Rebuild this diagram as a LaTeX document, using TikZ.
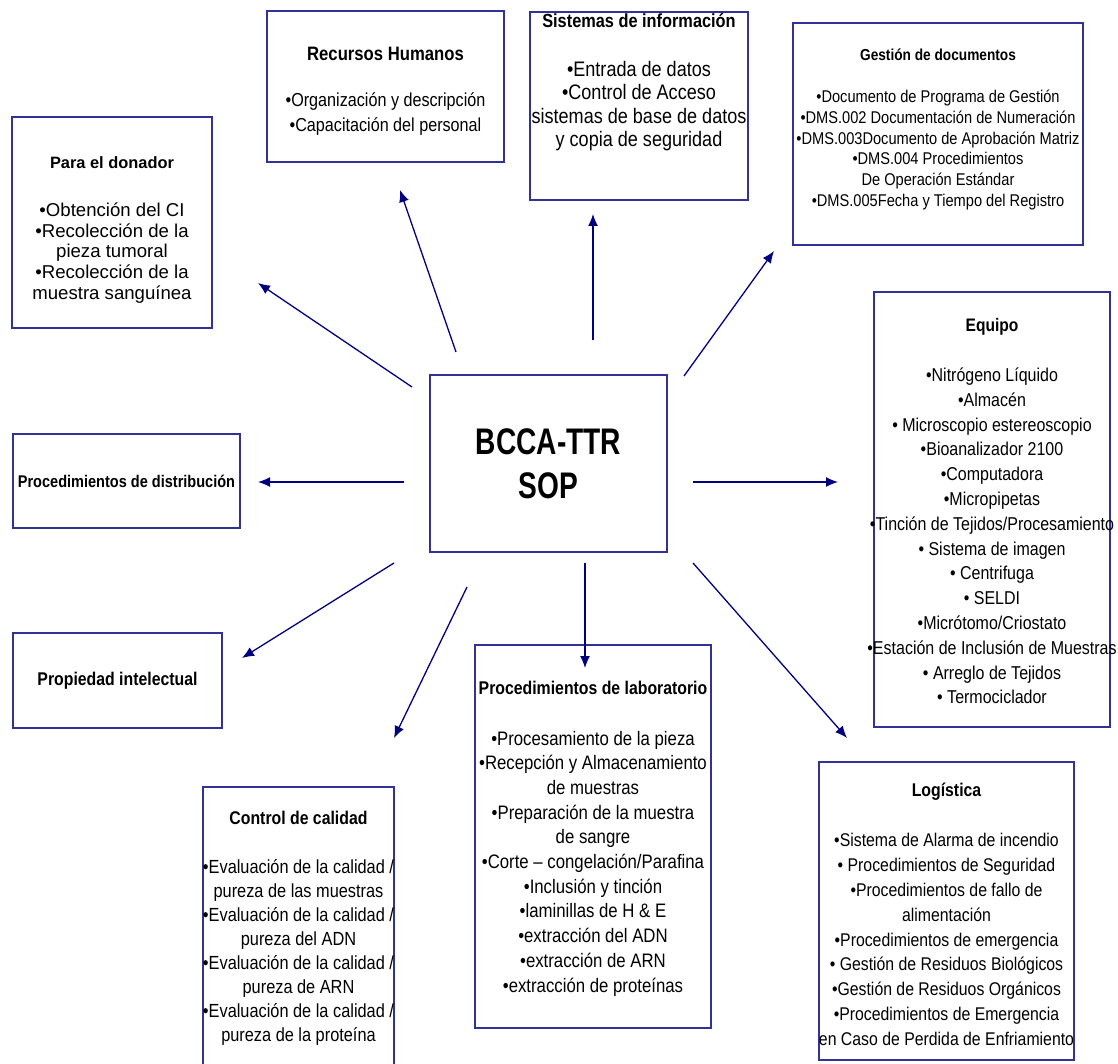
\documentclass[tikz,border=0pt]{standalone}
\usepackage{fontspec}
\setmainfont{Liberation Sans}
\newfontfamily\angosta{Liberation Sans}[FakeStretch=0.86]
\newfontfamily\estrecha{Liberation Sans}[FakeStretch=0.76]
\usetikzlibrary{arrows.meta}
\definecolor{azul}{RGB}{0,0,128}
\definecolor{borde}{RGB}{50,50,150}
\tikzset{
caja/.style={draw=borde, line width=1.5pt, outer sep=0pt, inner sep=0pt, align=center},
titulo/.style={inner sep=0pt, align=center, font=\angosta\bfseries\fontsize{#1}{#1}\selectfont},
lista/.style 2 args={inner sep=0pt, align=center, font=\angosta\fontsize{#1}{#2}\selectfont},
flecha/.style={draw=azul, line width=1.3pt, -{Latex[length=12pt,width=10pt]}}
}
\begin{document}
\begin{tikzpicture}[x=1pt,y=-1pt]
\useasboundingbox (0,0) rectangle (1118,1064);
% caja central
\node[caja, minimum width=237, minimum height=177, font=\estrecha\bfseries\fontsize{37}{44}\selectfont] (bcca) at (548.5,463.5) {BCCA-TTR\\SOP};
% cajas de alrededor
\node[caja, minimum width=200, minimum height=211] (don) at (112,222.5) {};
\node[inner sep=0pt, font=\bfseries\fontsize{16.4}{20}\selectfont] (dont) at (112,163) {Para el donador};
\node[inner sep=0pt, align=center, font=\fontsize{18.6}{20.8}\selectfont] (donl) at (112,253) {•Obtención del CI\\•Recolección de la\\pieza tumoral\\•Recolección de la\\muestra sanguínea};
\node[caja, minimum width=237, minimum height=151] (rh) at (385.5,86.5) {};
\node[titulo=19.4] (rht) at (385.5,54) {Recursos Humanos};
\node[lista={18.8}{25}] (rhl) at (385.5,114.5) {•Organización y descripción\\•Capacitación del personal};
\node[caja, minimum width=218, minimum height=188] (sis) at (639,106) {};
\node[titulo=19] (sist) at (639,21) {Sistemas de información};
\node[lista={21}{23.3}] (sisl) at (639,106) {•Entrada de datos\\•Control de Acceso\\sistemas de base de datos\\y copia de seguridad};
\node[caja, minimum width=290, minimum height=222] (ges) at (938,134) {};
\node[titulo=15.9] (gest) at (938,55) {Gestión de documentos};
\node[lista={17}{20.8}] (gesl) at (938,150) {•Documento de Programa de Gestión\\•DMS.002 Documentación de Numeración\\•DMS.003Documento de Aprobación Matriz\\•DMS.004 Procedimientos\\De Operación Estándar\\•DMS.005Fecha y Tiempo del Registro};
\node[caja, minimum width=236, minimum height=435] (equ) at (992,509.5) {};
\node[titulo=18.1] (equt) at (992,327) {Equipo};
\node[lista={18.6}{24.8}] (equl) at (992,536) {•Nitrógeno Líquido\\•Almacén\\• Microscopio estereoscopio\\•Bioanalizador 2100\\•Computadora\\•Micropipetas\\•Tinción de Tejidos/Procesamiento\\• Sistema de imagen\\• Centrifuga\\• SELDI\\•Micrótomo/Criostato\\•Estación de Inclusión de Muestras\\• Arreglo de Tejidos\\• Termociclador};
\node[caja, minimum width=255, minimum height=298] (log) at (946.5,911) {};
\node[titulo=18.4] (logt) at (946.5,792) {Logística};
\node[lista={18.4}{24.8}] (logl) at (946.5,939.5) {•Sistema de Alarma de incendio\\• Procedimientos de Seguridad\\•Procedimientos de fallo de\\alimentación\\•Procedimientos de emergencia\\• Gestión de Residuos Biológicos\\•Gestión de Residuos Orgánicos\\•Procedimientos de Emergencia\\en Caso de Perdida de Enfriamiento};
\node[caja, minimum width=236, minimum height=383] (lab) at (593,836.5) {};
\node[titulo=18.4] (labt) at (593,688) {Procedimientos de laboratorio};
\node[lista={19.5}{24.7}] (labl) at (593,863.5) {•Procesamiento de la pieza\\•Recepción y Almacenamiento\\de muestras\\•Preparación de la muestra\\de sangre\\•Corte – congelación/Parafina\\•Inclusión y tinción\\•laminillas de H \& E\\•extracción del ADN\\•extracción de ARN\\•extracción de proteínas};
\node[caja, minimum width=191, minimum height=288] (cal) at (298.5,931) {};
\node[titulo=18.4] (calt) at (298.5,818) {Control de calidad};
\node[lista={19}{24}] (call) at (298.5,952) {•Evaluación de la calidad /\\pureza de las muestras\\•Evaluación de la calidad /\\pureza del ADN\\•Evaluación de la calidad /\\pureza de ARN\\•Evaluación de la calidad /\\pureza de la proteína};
\node[caja, minimum width=227, minimum height=94, font=\angosta\bfseries\fontsize{16.9}{19}\selectfont] (dis) at (126.5,481) {Procedimientos de distribución};
\node[caja, minimum width=209, minimum height=95, font=\angosta\bfseries\fontsize{18.4}{20}\selectfont] (pro) at (117.5,680.5) {Propiedad intelectual};
% flechas
\draw[flecha] ([shift={(-18,12)}]bcca.north west) -- ([shift={(46,-45)}]don.south east);
\draw[flecha] ([shift={(26,-23)}]bcca.north west) -- ([shift={(14.5,28)}]rh.south);
\draw[flecha] ([shift={(44.5,-35)}]bcca.north) -- ([shift={(-46,14)}]sis.south);
\draw[flecha] ([shift={(17,1)}]bcca.north east) -- ([shift={(-19,6)}]ges.south west);
\draw[flecha] ([shift={(26,18.5)}]bcca.east) -- ([shift={(-36,-27.5)}]equ.west);
\draw[flecha] ([shift={(-26,18.5)}]bcca.west) -- ([shift={(18,1)}]dis.east);
\draw[flecha] ([shift={(-36,11)}]bcca.south west) -- ([shift={(20,25)}]pro.north east);
\draw[flecha] ([shift={(37,35)}]bcca.south west) -- ([shift={(0,-49)}]cal.north east);
\draw[flecha] ([shift={(36.5,11)}]bcca.south) -- ([shift={(-8,23)}]lab.north);
\draw[flecha] ([shift={(26,11)}]bcca.south east) -- ([shift={(28,-24)}]log.north west);
\end{tikzpicture}
\end{document}
